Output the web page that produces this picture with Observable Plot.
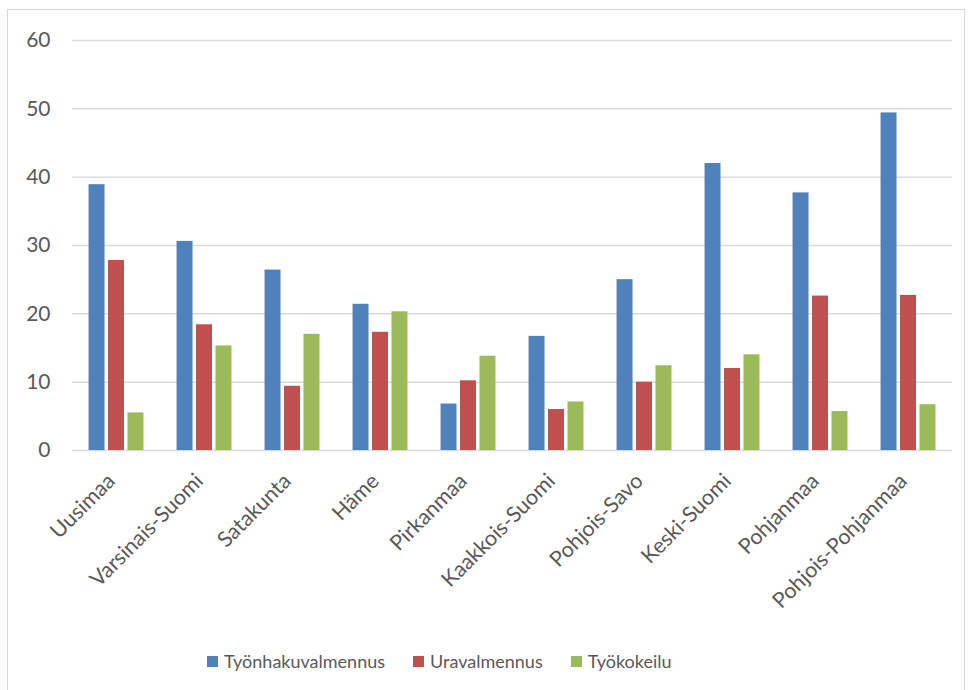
<!DOCTYPE html>
<html>
<head>
<meta charset="utf-8">
<script src="https://cdn.jsdelivr.net/npm/d3@7"></script>
<script src="https://cdn.jsdelivr.net/npm/@observablehq/plot@0.6"></script>
<style>
  body { margin: 0; background: #fff; font-family: Lato, "Liberation Sans", sans-serif; }
  #wrap { position: relative; width: 971px; height: 690px; overflow: hidden; }
  #border { position: absolute; left: 7px; top: 9px; width: 958px; height: 700px; border: 1px solid #d9d9d9; box-sizing: border-box; pointer-events: none; }
  #chart { position: absolute; left: 0; top: 0; }
  #legend { position: absolute; top: 650px; left: 207px; display: flex; align-items: center; font-size: 18px; color: #595959; white-space: nowrap; }
  .item { display: flex; align-items: center; margin-right: 28px; }
  .sw { width: 11px; height: 11px; margin-right: 6px; }
</style>
</head>
<body>
<div id="wrap">
  <div id="border"></div>
  <div id="chart"></div>
  <div id="legend"></div>
</div>
<script>
const categories = ["Uusimaa", "Varsinais-Suomi", "Satakunta", "Häme", "Pirkanmaa", "Kaakkois-Suomi", "Pohjois-Savo", "Keski-Suomi", "Pohjanmaa", "Pohjois-Pohjanmaa"];
const series = ["Työnhakuvalmennus", "Uravalmennus", "Työkokeilu"];
const tyonhakuvalmennus = [38.9, 30.6, 26.4, 21.4, 6.8, 16.7, 25.0, 42.0, 37.7, 49.4];
const uravalmennus = [27.8, 18.4, 9.4, 17.3, 10.2, 6.0, 10.0, 12.0, 22.6, 22.7];
const tyokokeilu = [5.5, 15.3, 17.0, 20.3, 13.8, 7.1, 12.4, 14.0, 5.7, 6.7];
const yTicks = [0, 10, 20, 30, 40, 50, 60];
const colors = ["#4F81BD", "#C0504D", "#9BBB59"];

const seriesValues = [tyonhakuvalmennus, uravalmennus, tyokokeilu];
const data = [];
categories.forEach((c, i) => {
  series.forEach((s, j) => data.push({region: c, series: s, value: seriesValues[j][i]}));
});

const chart = Plot.plot({
  width: 971,
  height: 630,
  marginTop: 40,
  marginLeft: 72,
  marginRight: 19,
  marginBottom: 180,
  style: {fontFamily: "Lato, 'Liberation Sans', sans-serif", fontSize: "18px", color: "#595959", background: "transparent"},
  fx: {domain: categories, padding: 0, round: false, label: null},
  x: {domain: series, axis: null, paddingInner: 0.18, paddingOuter: 0.85, round: false},
  y: {domain: [0, 60], label: null},
  color: {domain: series, range: colors},
  marks: [
    Plot.gridY(yTicks.filter(d => d > 0), {stroke: "#d9d9d9", strokeOpacity: 1, strokeWidth: 1.5}),
    Plot.ruleY([0], {stroke: "#d9d9d9", strokeWidth: 1.5}),
    Plot.barY(data, {fx: "region", x: "series", y: "value", fill: "series"}),
    Plot.axisY(yTicks, {tickSize: 0, tickPadding: 22, fontSize: 21, fill: "#595959", label: null}),
    Plot.axisFx({anchor: "bottom", tickRotate: -45, tickSize: 0, tickPadding: 27, dx: -5, fontSize: 21.5, fill: "#595959", label: null})
  ]
});
document.getElementById("chart").appendChild(chart);

const legend = document.getElementById("legend");
series.forEach((s, j) => {
  const item = document.createElement("div");
  item.className = "item";
  const sw = document.createElement("span");
  sw.className = "sw";
  sw.style.background = colors[j];
  const t = document.createElement("span");
  t.textContent = s;
  item.appendChild(sw);
  item.appendChild(t);
  legend.appendChild(item);
});
</script>
</body>
</html>
